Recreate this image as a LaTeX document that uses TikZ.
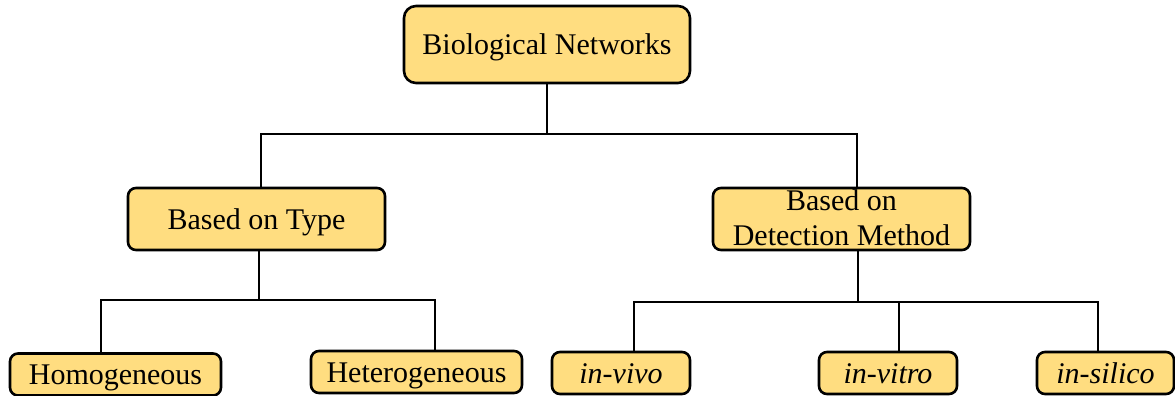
\documentclass[tikz,border=0pt]{standalone}
\usepackage{fontspec}
\setmainfont{Liberation Serif}
\begin{document}
\begin{tikzpicture}[x=1pt,y=-1pt,
  box/.style={draw=black, line width=2.6pt, fill=boxfill, rounded corners=8pt,
    inner sep=0pt, align=center, text height=20.5pt, text depth=0pt,
    font=\fontsize{30}{34.3}\selectfont},
  wire/.style={draw=black, line width=2.4pt, line cap=rect}]
\definecolor{boxfill}{HTML}{FFDD80}
\useasboundingbox (0,0) rectangle (1175,396);

% boxes
\node[box, rounded corners=12pt, minimum width=286pt, minimum height=77pt] (root) at (547,44.5) {Biological Networks};
\node[box, minimum width=257pt, minimum height=62pt] (type) at (256.5,219) {Based on Type};
\node[box, minimum width=257pt, minimum height=62pt, text height=52pt] (det) at (841.5,219) {Based on\\Detection Method};
\node[box, minimum width=211pt, minimum height=42pt] (homo) at (115.5,374.5) {Homogeneous};
\node[box, minimum width=211pt, minimum height=42pt] (hetero) at (416.5,372) {Heterogeneous};
\node[box, minimum width=138pt, minimum height=42pt] (vivo) at (621,373) {\itshape in-vivo};
\node[box, minimum width=138pt, minimum height=42pt] (vitro) at (888,373) {\itshape in-vitro};
\node[box, minimum width=137pt, minimum height=42pt] (silico) at (1105.5,373) {\itshape in-silico};

% junction points of the tree
\coordinate (r0) at (547,134);
\coordinate (rL) at (261,134);
\coordinate (rR) at (857,134);
\coordinate (t0) at (259,300);
\coordinate (tL) at (101,300);
\coordinate (tR) at (435,300);
\coordinate (d0) at (858,302);
\coordinate (dL) at (634,302);
\coordinate (dM) at (899,302);
\coordinate (dR) at (1098,302);

% connectors
\draw[wire] (root.south) -- (r0);
\draw[wire] (rL) -- (rR);
\draw[wire] (rL) -- (rL |- type.north);
\draw[wire] (rR) -- (rR |- det.north);

\draw[wire] (t0 |- type.south) -- (t0);
\draw[wire] (tL) -- (tR);
\draw[wire] (tL) -- (tL |- homo.north);
\draw[wire] (tR) -- (tR |- hetero.north);

\draw[wire] (d0 |- det.south) -- (d0);
\draw[wire] (dL) -- (dR);
\draw[wire] (dL) -- (dL |- vivo.north);
\draw[wire] (dM) -- (dM |- vitro.north);
\draw[wire] (dR) -- (dR |- silico.north);
\end{tikzpicture}
\end{document}
